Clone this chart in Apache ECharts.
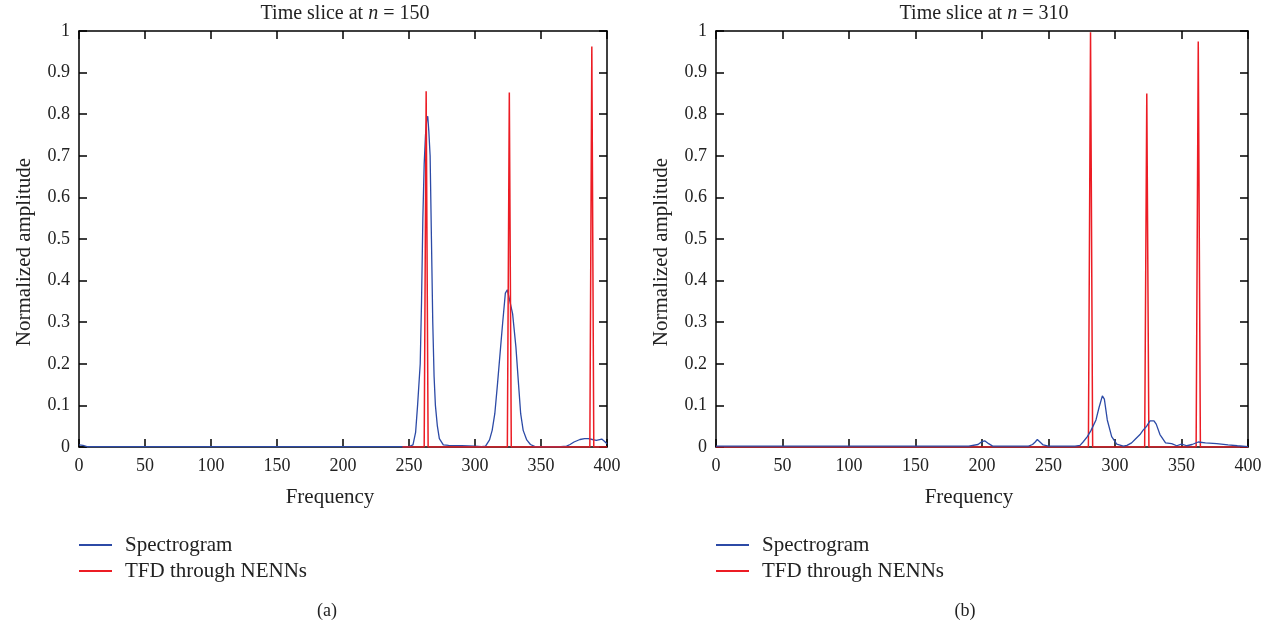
<!DOCTYPE html>
<html>
<head>
	<meta charset="utf-8">
	<script src="https://cdn.jsdelivr.net/npm/echarts@6.0.0/dist/echarts.min.js"></script>
	<style>body{margin:0;background:#fff;}</style>
</head>
<body>
	<div id="main" style="width:1277px;height:624px;"></div>
<script type="text/javascript">
// panel (a), n = 150
var freqA=[0,3,6,250,253,255,256.5,258.5,259.5,260.5,261.5,262.5,263.5,264.2,265,266,267,268,269,270,271.5,273,276,280,290,300,305,308,311,313,315,317,319.4,321,323,324.5,326,328.5,331,333,334.6,336.5,339.2,342,345.5,365,369.4,372,375,379.5,383,385.8,389,392,396,398,400];
var specA=[0.005,0.004,0.001,0.001,0.005,0.035,0.1,0.2,0.35,0.55,0.68,0.75,0.79,0.795,0.76,0.7,0.5,0.3,0.17,0.1,0.05,0.02,0.005,0.004,0.003,0.002,0.001,0.002,0.017,0.04,0.08,0.15,0.24,0.3,0.37,0.378,0.375,0.32,0.24,0.15,0.08,0.04,0.017,0.006,0.001,0.001,0.002,0.006,0.012,0.018,0.02,0.02,0.018,0.016,0.019,0.014,0.008];
var tfdFreqA=[245,261.5,263,264.5,324.5,326,327.5,387,388.5,390,400];
var tfdA=[0,0,0.855,0,0,0.852,0,0,0.963,0,0];
// panel (b), n = 310
var freqB=[0,190,197,200,202,205,208,235,238,240,241.6,243,246,250,270,273.7,276,279.2,282,285.7,288,290.5,292,294.2,297.5,301.3,306.3,309,312.5,315,318.8,321,323.8,326.3,329.3,331,333.8,338,342.6,346.4,350,354,358,362.6,368,376.5,385,392,400];
var specB=[0.002,0.002,0.006,0.013,0.015,0.008,0.002,0.002,0.006,0.012,0.018,0.016,0.005,0.002,0.002,0.004,0.012,0.025,0.04,0.065,0.095,0.123,0.115,0.065,0.025,0.007,0.002,0.004,0.01,0.018,0.03,0.04,0.05,0.063,0.063,0.055,0.03,0.01,0.008,0.003,0.007,0.003,0.006,0.012,0.01,0.008,0.005,0.003,0.001];
var tfdFreqB=[0,280,281.6,283.2,322.3,323.9,325.5,361,362.6,364.2,400];
var tfdB=[0,0,0.997,0,0,0.85,0,0,0.975,0,0];

var xTicks=[0,50,100,150,200,250,300,350,400];
var titles=['150','310'];
var panelLabels=['(a)','(b)'];

var BLUE='#2c4aa6', RED='#ec1c24';
var FONT='Liberation Serif';

function pairs(xs,ys){
	var out=[];
	for(var i=0;i<xs.length;i++) out.push([xs[i],ys[i]]);
	return out;
}

var grids=[
	{left:79, right:670, top:31, bottom:177},
	{left:716, right:29, top:31, bottom:177}
];
var centers=[343,982];

var frameLine={onZero:false, lineStyle:{color:'#000', width:1.5}};
var frameTick={inside:true, length:8, lineStyle:{color:'#000', width:1.5}};

var xAxes=[], yAxes=[];
for(var g=0;g<2;g++){
	// main bottom axis
	xAxes.push({
		type:'value', gridIndex:g, min:xTicks[0], max:xTicks[xTicks.length-1], interval:50,
		position:'bottom',
		name:'Frequency', nameLocation:'middle', nameGap:40,
		nameTextStyle:{fontFamily:FONT, fontSize:21, color:'#222', padding:[0,26,0,0]},
		axisLine:frameLine, axisTick:frameTick,
		axisLabel:{fontFamily:FONT, fontSize:18, color:'#222', margin:10},
		splitLine:{show:false}
	});
	// top mirror axis
	xAxes.push({
		type:'value', gridIndex:g, min:0, max:400, interval:50, position:'top',
		axisLine:frameLine, axisTick:frameTick,
		axisLabel:{show:false}, splitLine:{show:false}
	});
	yAxes.push({
		type:'value', gridIndex:g, min:0, max:1, interval:0.1, position:'left',
		name:'Normalized amplitude', nameLocation:'middle', nameGap:44,
		nameTextStyle:{fontFamily:FONT, fontSize:21, color:'#222', padding:[0,26,0,0]},
		axisLine:frameLine, axisTick:frameTick,
		axisLabel:{fontFamily:FONT, fontSize:18, color:'#222', margin:9},
		splitLine:{show:false}
	});
	yAxes.push({
		type:'value', gridIndex:g, min:0, max:1, interval:0.1, position:'right',
		axisLine:frameLine, axisTick:frameTick,
		axisLabel:{show:false}, splitLine:{show:false}
	});
}

var titleList=[], legends=[];
for(var g=0;g<2;g++){
	titleList.push({
		text:'Time slice at {i|n} = '+titles[g],
		left:centers[g]-3, top:-1, textAlign:'center',
		textStyle:{fontFamily:FONT, fontSize:20, fontWeight:'normal', color:'#222',
			rich:{i:{fontFamily:FONT, fontSize:20, fontStyle:'italic', color:'#222'}}}
	});
	titleList.push({
		text:panelLabels[g], left:[322,960][g], top:597, textAlign:'center',
		textStyle:{fontFamily:FONT, fontSize:18, fontWeight:'normal', color:'#222'}
	});
	legends.push({
		orient:'vertical', left:grids[g].left, top:534, padding:0,
		icon:'rect', itemWidth:33, itemHeight:2, itemGap:4,
		textStyle:{fontFamily:FONT, fontSize:21, color:'#222', padding:[0,0,0,8], lineHeight:22},
		data:['Spectrogram','TFD through NENNs'],
		selectedMode:false
	});
}

function line(name,data,color,g,z,w){
	return {
		name:name, type:'line', xAxisIndex:g*2, yAxisIndex:g*2,
		data:data, showSymbol:false, symbol:'none', z:z,
		lineStyle:{color:color, width:w}, itemStyle:{color:color},
		animation:false
	};
}

var option={
	backgroundColor:'#fff',
	title:titleList,
	legend:legends,
	grid:grids,
	xAxis:xAxes,
	yAxis:yAxes,
	series:[
		line('Spectrogram',pairs(freqA,specA),BLUE,0,2,1.3),
		line('TFD through NENNs',pairs(tfdFreqA,tfdA),RED,0,3,1.5),
		line('Spectrogram',pairs(freqB,specB),BLUE,1,3,1.3),
		line('TFD through NENNs',pairs(tfdFreqB,tfdB),RED,1,2,1.5)
	]
};
var myChart=echarts.init(document.getElementById('main'));
myChart.setOption(option);
</script>
</body>
</html>
